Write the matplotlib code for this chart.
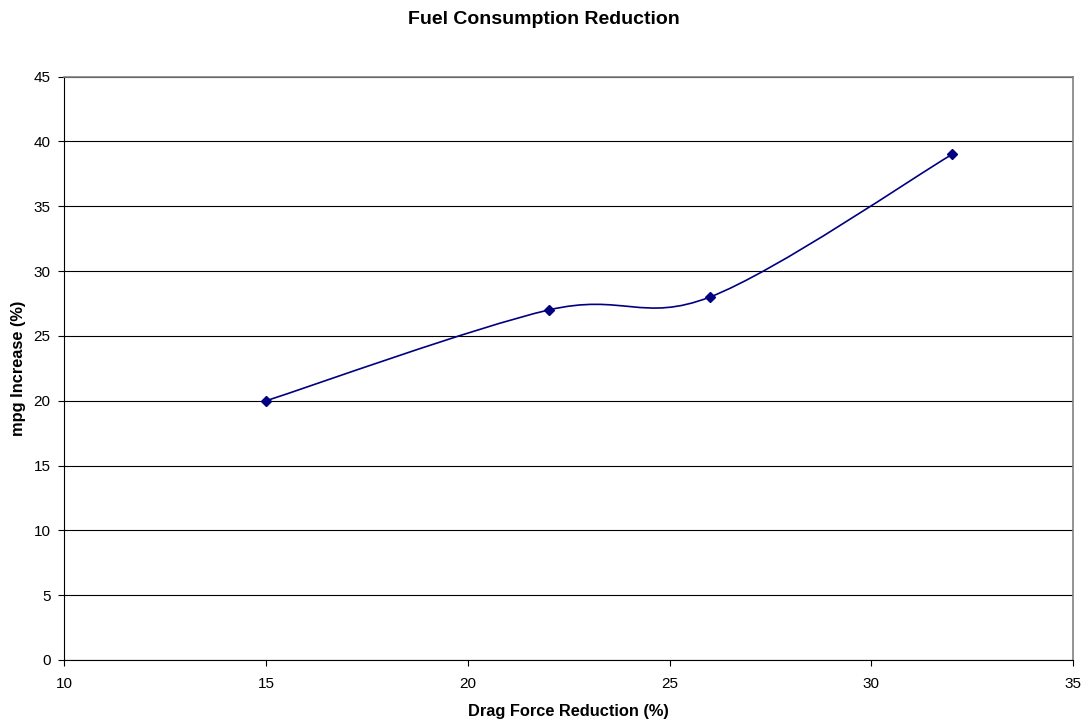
import matplotlib
matplotlib.use("Agg")
import matplotlib.pyplot as plt
from matplotlib.path import Path
from matplotlib.patches import PathPatch

plt.rcParams['font.family'] = ['Liberation Sans', 'DejaVu Sans']

# data
drag_reduction = [15, 22, 26, 32]
mpg_increase = [20, 27, 28, 39]

line_color = '#000080'

fig = plt.figure(figsize=(10.87, 7.24), dpi=100)
ax = fig.add_axes([0.0593, 0.0884, 0.9278, 0.8057])

# smoothed line like Excel (cubic bezier through the points)
pts = list(zip(drag_reduction, mpg_increase))
n = len(pts)
verts = [pts[0]]
codes = [Path.MOVETO]
for i in range(n - 1):
    p0 = pts[i - 1] if i > 0 else pts[i]
    p1 = pts[i]
    p2 = pts[i + 1]
    p3 = pts[i + 2] if i + 2 < n else pts[i + 1]
    c1 = (p1[0] + (p2[0] - p0[0]) / 6, p1[1] + (p2[1] - p0[1]) / 6)
    c2 = (p2[0] - (p3[0] - p1[0]) / 6, p2[1] - (p3[1] - p1[1]) / 6)
    verts += [c1, c2, p2]
    codes += [Path.CURVE4] * 3
ax.add_patch(PathPatch(Path(verts, codes), facecolor='none',
                       edgecolor=line_color, lw=1.2, zorder=3))
ax.plot(drag_reduction, mpg_increase, linestyle='none', marker='D',
        markersize=5, color=line_color, zorder=4)

ax.set_xlim(10, 35)
ax.set_ylim(0, 45)
ax.set_xticks(range(10, 36, 5))
ax.set_yticks(range(0, 46, 5))
ax.yaxis.grid(True, color='black', lw=0.8)
ax.set_axisbelow(True)
for s in ['top', 'right']:
    ax.spines[s].set_color('#808080')
    ax.spines[s].set_linewidth(1.2)
ax.tick_params(direction='out', length=4, labelsize=11)
ax.tick_params(axis='x', pad=8)
ax.tick_params(axis='y', pad=6)

ax.set_xlabel("Drag Force Reduction (%)", fontsize=11.8, fontweight='bold')
ax.set_ylabel("mpg Increase (%)", fontsize=11.8, fontweight='bold')
ax.xaxis.set_label_coords(0.5, -44 / 583, transform=ax.transAxes)
ax.yaxis.set_label_coords(-38.5 / 1008.5, 0.5, transform=ax.transAxes)
fig.text(0.5, 1 - 19 / 724, "Fuel Consumption Reduction", fontsize=14,
         fontweight='bold', ha='center', va='center')

plt.savefig("out.png", dpi=100)
